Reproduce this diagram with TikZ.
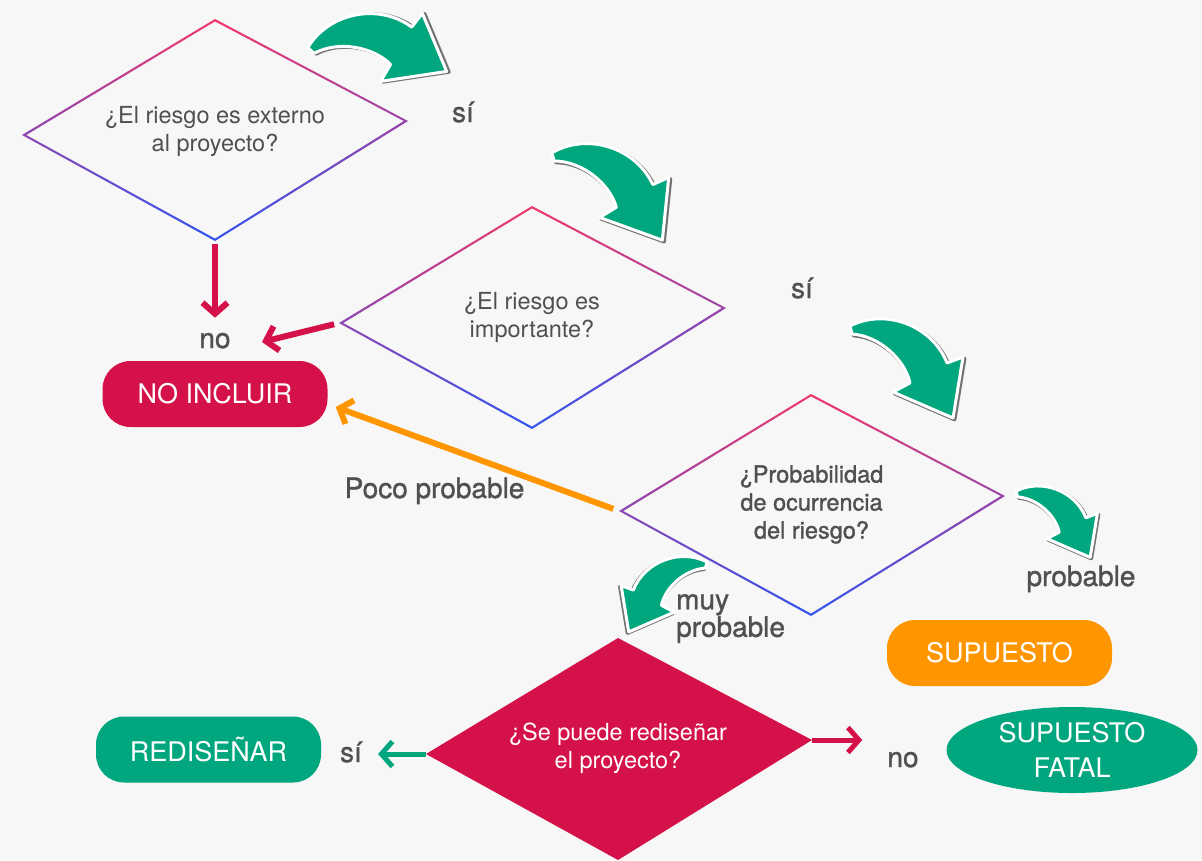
\documentclass[tikz,border=0pt]{standalone}
\usepackage{fontspec}
\setmainfont{TeX Gyre Heros}
\newfontfamily\grueso{TeX Gyre Heros}[FakeBold=1.2]
\usetikzlibrary{arrows.meta, shapes.geometric, calc}
\definecolor{rosa}{RGB}{242,56,108}
\definecolor{azul}{RGB}{48,84,240}
\definecolor{carmin}{RGB}{213,17,74}
\definecolor{verde}{RGB}{0,166,126}
\definecolor{naranja}{RGB}{255,150,0}
\definecolor{gristexto}{RGB}{80,80,80}
\definecolor{fondo}{RGB}{247,247,247}
\tikzset{>={Straight Barb[length=11pt,width=25pt]}}
\tikzset{
  pregunta/.style={align=center, text=gristexto, inner sep=0pt, font=\fontsize{23.5}{28}\selectfont},
  etiqueta/.style={text=gristexto, inner sep=0pt, font=\grueso\fontsize{28}{25}\selectfont},
  caja/.style={rounded corners=28pt, minimum width=225pt, minimum height=66pt, inner sep=0pt, text=white, font=\fontsize{27}{34}\selectfont},
  flecha/.style={->, line width=6pt},
}
% curved green arrow, tail at the origin
\newcommand\caminoflecha{(0,-4) .. controls (35,-22) and (82,-5) .. (97,33) -- (113,27) -- (103,88) -- (43,62) -- (60,53) .. controls (55,30) and (30,6) .. (2,4) -- cycle}
\newcommand\flechaverde[1]{%
  \begin{scope}[#1]
    \draw[black!55, line width=3.6pt, line join=round, shift={(1.6,1.6)}] \caminoflecha;
    \filldraw[fill=verde, draw=white, line width=3pt, line join=round] \caminoflecha;
  \end{scope}}
% diamond outline, pink at the top, blue at the bottom
\newcommand\bordeRombo[1]{%
  \shade[top color=rosa, bottom color=azul, even odd rule]
    (#1t) -- (#1r) -- (#1b) -- (#1l) -- cycle
    ($(#1t)+(0,2.4)$) -- ($(#1r)+(-4.2,0)$) -- ($(#1b)+(0,-2.4)$) -- ($(#1l)+(4.2,0)$) -- cycle;}

\begin{document}
\begin{tikzpicture}[x=1pt, y=-1pt]
        \useasboundingbox (0,0) rectangle (1202,860);
        \fill[fondo] (0,0) rectangle (1202,860);

        \coordinate (r1t) at (215,19);
        \coordinate (r1l) at (22,135);
        \coordinate (r1r) at (408,121);
        \coordinate (r1b) at (215,241);
        \coordinate (r2t) at (532,206);
        \coordinate (r2l) at (339,323);
        \coordinate (r2r) at (726,308);
        \coordinate (r2b) at (532,429);
        \coordinate (r3t) at (811,394);
        \coordinate (r3l) at (619,511);
        \coordinate (r3r) at (1005,496);
        \coordinate (r3b) at (811,616);
        \coordinate (r4t) at (618,638);
        \coordinate (r4l) at (426,754);
        \coordinate (r4r) at (812,740);
        \coordinate (r4b) at (618,860);
        \coordinate (pno) at (262,342);

        \bordeRombo{r1}
        \bordeRombo{r2}
        \bordeRombo{r3}
        \fill[carmin] (r4t) -- (r4r) -- (r4b) -- (r4l) -- cycle;

        \node[pregunta] (q1) at (215,131) {¿El riesgo es externo\\al proyecto?};
        \node[pregunta] (q2) at (532,317) {¿El riesgo es\\importante?};
        \node[pregunta, font=\grueso\fontsize{23.5}{28}\selectfont] (q3) at (811.5,504.5) {¿Probabilidad\\de ocurrencia\\del riesgo?};
        \node[pregunta, text=white] (q4) at (618,748) {¿Se puede rediseñar\\el proyecto?};

        \node[caja, fill=carmin] (noincluir) at (215,394) {NO INCLUIR};
        \node[caja, fill=naranja] (supuesto) at (999.5,653) {SUPUESTO};
        \node[caja, fill=verde] (redisenar) at (208.5,749.5) {REDISEÑAR};
        \node[ellipse, fill=verde, minimum width=251pt, minimum height=86pt, inner sep=0pt, text=white, align=center, font=\fontsize{27}{35}\selectfont] (fatal) at (1072,750) {SUPUESTO\\FATAL};

        \node[etiqueta, anchor=base] (si1) at (463,122) {sí};
        \node[etiqueta, anchor=base] (si2) at (802,298) {sí};
        \node[etiqueta, anchor=base] (no1) at (215,348) {no};
        \node[etiqueta, anchor=base] (poco) at (434.5,498) {Poco probable};
        \node[etiqueta, anchor=base] (probable) at (1081,586) {probable};
        \node[etiqueta, anchor=north west, align=left] (muyprob) at (676,594) {muy\\probable};
        \node[etiqueta, anchor=base] (si3) at (351,762) {sí};
        \node[etiqueta, anchor=base] (no3) at (903,767) {no};

        \draw[flecha, carmin, shorten <=3pt, shorten >=15pt] (r1b) -- (no1);
        \draw[flecha, carmin, shorten <=5pt] (r2l) -- (pno);
        \draw[flecha, naranja, shorten <=6pt] (r3l) -- ([xshift=8pt,yshift=-13pt]noincluir.east);
        \draw[flecha, verde, line width=5pt, shorten >=16pt] (r4l) -- (r4l -| si3.east);
        \draw[flecha, carmin, line width=5pt, shorten >=25pt] (r4r) -- (r4r -| no3.west);

        \flechaverde{shift={(310,51)}, rotate=32, scale=1.02}
        \flechaverde{shift={(552,157)}, rotate=3.5, scale=1.02}
        \flechaverde{shift={(850,330)}}
        \flechaverde{shift={(1016,494)}, scale=0.72}
        \flechaverde{shift={(707,565)}, xscale=-0.76, yscale=0.76}
\end{tikzpicture}
\end{document}
